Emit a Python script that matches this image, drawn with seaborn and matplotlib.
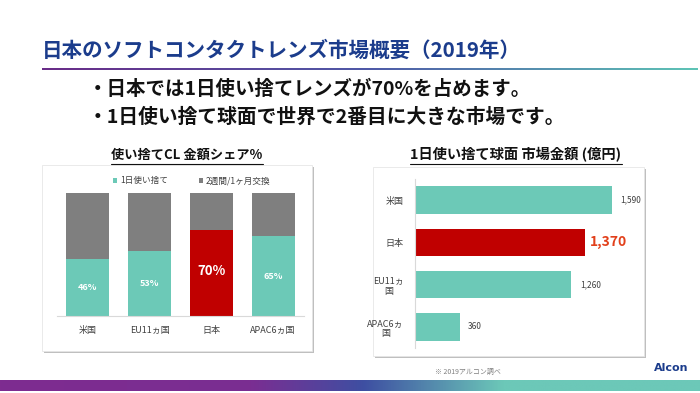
import numpy as np
import matplotlib
matplotlib.use("Agg")
import matplotlib.pyplot as plt
import seaborn as sns
from matplotlib.patches import Rectangle, Patch
from matplotlib.colors import LinearSegmentedColormap
from matplotlib.lines import Line2D

# --- data ---
share_cats = ["米国", "EU11ヵ国", "日本", "APAC6ヵ国"]
share_daily = [46, 53, 70, 65]
share_other = [54, 47, 30, 35]
share_labels = ["46%", "53%", "70%", "65%"]

market_cats = ["米国", "日本", "EU11ヵ\n国", "APAC6ヵ\n国"]
market_values = [1590, 1370, 1260, 360]
market_labels = ["1,590", "1,370", "1,260", "360"]

legend_names = ["1日使い捨て", "2週間/1ヶ月交換"]

title = "日本のソフトコンタクトレンズ市場概要（2019年）"
bullets = ["・日本では1日使い捨てレンズが70%を占めます。",
           "・1日使い捨て球面で世界で2番目に大きな市場です。"]
left_title = "使い捨てCL 金額シェア%"
right_title = "1日使い捨て球面 市場金額 (億円)"
footnote = "※ 2019アルコン調べ"

TEAL = "#6CC9B7"
GRAY = "#7F7F7F"
RED = "#C00000"
NAVY = "#1B3C8C"

sns.set_theme(style="white")
plt.rcParams['font.family'] = ['Noto Sans CJK JP', 'DejaVu Sans']

W, H = 700, 393
fig = plt.figure(figsize=(7, 3.93), dpi=100)


def px(x, y, w, h):
    # pixel box (top-left origin) -> figure fraction
    return [x / W, 1 - (y + h) / H, w / W, h / H]


def fy(y):
    return 1 - y / H


# --- header ---
fig.text(42 / W, fy(50), title, fontsize=14.8, fontweight="bold",
         color=NAVY, va="center", ha="left")

line_cmap = LinearSegmentedColormap.from_list("ul", ["#6A2C88", "#4F5AA8", "#5EC4B6"])
ax_ul = fig.add_axes(px(42, 68, 656, 2))
ax_ul.imshow(np.linspace(0, 1, 256)[None, :], aspect="auto", cmap=line_cmap)
ax_ul.axis("off")

fig.text(88 / W, fy(89), bullets[0], fontsize=14, fontweight="bold",
         color="#111111", va="center", ha="left")
fig.text(88 / W, fy(117), bullets[1], fontsize=14.2, fontweight="bold",
         color="#111111", va="center", ha="left")

# --- panel boxes with soft shadow ---
for (bx, by, bw, bh) in [(42, 165, 270, 186), (373, 167, 271, 189)]:
    fig.add_artist(Rectangle(((bx + 2) / W, 1 - (by + bh + 2) / H), bw / W, bh / H,
                             transform=fig.transFigure, facecolor="#BFBFBF",
                             edgecolor="none", zorder=-3))
    fig.add_artist(Rectangle((bx / W, 1 - (by + bh) / H), bw / W, bh / H,
                             transform=fig.transFigure, facecolor="white",
                             edgecolor="#E6E6E6", linewidth=0.6, zorder=-2))

# --- left chart: stacked share bars ---
ax1 = fig.add_axes(px(57, 193, 247, 123))
ax1.patch.set_alpha(0)
totals = [a + b for a, b in zip(share_daily, share_other)]
sns.barplot(x=share_cats, y=totals, color=GRAY, width=0.70, errorbar=None,
            saturation=1, linewidth=0, ax=ax1)
sns.barplot(x=share_cats, y=share_daily, hue=share_cats,
            palette=[TEAL, TEAL, RED, TEAL], width=0.70, errorbar=None,
            saturation=1, linewidth=0, legend=False, ax=ax1)
ax1.set_ylim(0, 100)
ax1.set_xlim(-0.5, 3.5)
for i, (v, lab) in enumerate(zip(share_daily, share_labels)):
    big = share_cats[i] == "日本"
    ax1.text(i, v / 2 + (1.5 if big else 0), lab, color="white", ha="center", va="center",
             fontsize=9.5 if big else 6.5, fontweight="bold")
ax1.set_yticks([])
ax1.set_xlabel("")
ax1.set_ylabel("")
ax1.tick_params(axis="x", length=0, pad=7, labelsize=6.5, labelcolor="#404040")
for s in ["top", "right", "left"]:
    ax1.spines[s].set_visible(False)
ax1.spines["bottom"].set_color("#D9D9D9")
ax1.spines["bottom"].set_linewidth(0.8)

handles = [Patch(facecolor=TEAL, edgecolor="none"), Patch(facecolor=GRAY, edgecolor="none")]
ax1.legend(handles, legend_names, ncol=2, loc="center", bbox_to_anchor=(0.545, 1.1),
           frameon=False, fontsize=6.2, handlelength=0.55, handleheight=0.55,
           handletextpad=0.3, columnspacing=3.6, labelcolor="#404040")

# --- right chart: market size bars ---
ax2 = fig.add_axes(px(415, 179, 223, 169))
ax2.patch.set_alpha(0)
sns.barplot(x=market_values, y=market_cats, hue=market_cats, orient="h",
            palette=[TEAL, RED, TEAL, TEAL], width=0.655, errorbar=None,
            saturation=1, linewidth=0, legend=False, ax=ax2)
ax2.set_xlim(0, 1800)
ax2.set_ylim(3.5, -0.5)
for i, (v, lab) in enumerate(zip(market_values, market_labels)):
    if market_cats[i] == "日本":
        ax2.text(v + 40, i, lab, color="#E2401B", fontsize=10, fontweight="bold",
                 va="center", ha="left")
    else:
        ax2.text(v + 70, i, lab, color="#404040", fontsize=6, va="center", ha="left")
ax2.set_xticks([])
ax2.set_xlabel("")
ax2.set_ylabel("")
ax2.tick_params(axis="y", length=0, pad=8, labelsize=6.5, labelcolor="#404040")
for t in ax2.get_yticklabels():
    t.set_multialignment("center")
for s in ["top", "right", "bottom"]:
    ax2.spines[s].set_visible(False)
ax2.spines["left"].set_color("#D9D9D9")
ax2.spines["left"].set_linewidth(0.8)

# --- panel titles (underlined) ---
t1 = fig.text(187 / W, fy(155), left_title, fontsize=9.5, fontweight="bold",
              color="#111111", ha="center", va="center")
t2 = fig.text(516 / W, fy(155), right_title, fontsize=10.3, fontweight="bold",
              color="#111111", ha="center", va="center")
fig.canvas.draw()
inv = fig.transFigure.inverted()
for t in (t1, t2):
    bb = t.get_window_extent().transformed(inv)
    fig.add_artist(Line2D([bb.x0, bb.x1], [bb.y0 - 0.004, bb.y0 - 0.004],
                          transform=fig.transFigure, color="#111111", linewidth=0.8))

# --- footer ---
fig.text(435 / W, fy(372), footnote, fontsize=5, color="#7F7F7F", va="center", ha="left")
fig.text(688 / W, fy(368), "Alcon", fontsize=8, fontweight="bold", color=NAVY,
         va="center", ha="right", family=["DejaVu Sans"])

bar_cmap = LinearSegmentedColormap.from_list(
    "bar", [(0, "#7E2C90"), (0.36, "#7A2E92"), (0.52, "#3E4FA2"), (0.72, "#6CC8B8"), (1, "#6CC8B8")])
ax_bar = fig.add_axes(px(0, 380, 700, 11))
ax_bar.imshow(np.linspace(0, 1, 256)[None, :], aspect="auto", cmap=bar_cmap)
ax_bar.axis("off")

fig.savefig("out.png", dpi=100)
